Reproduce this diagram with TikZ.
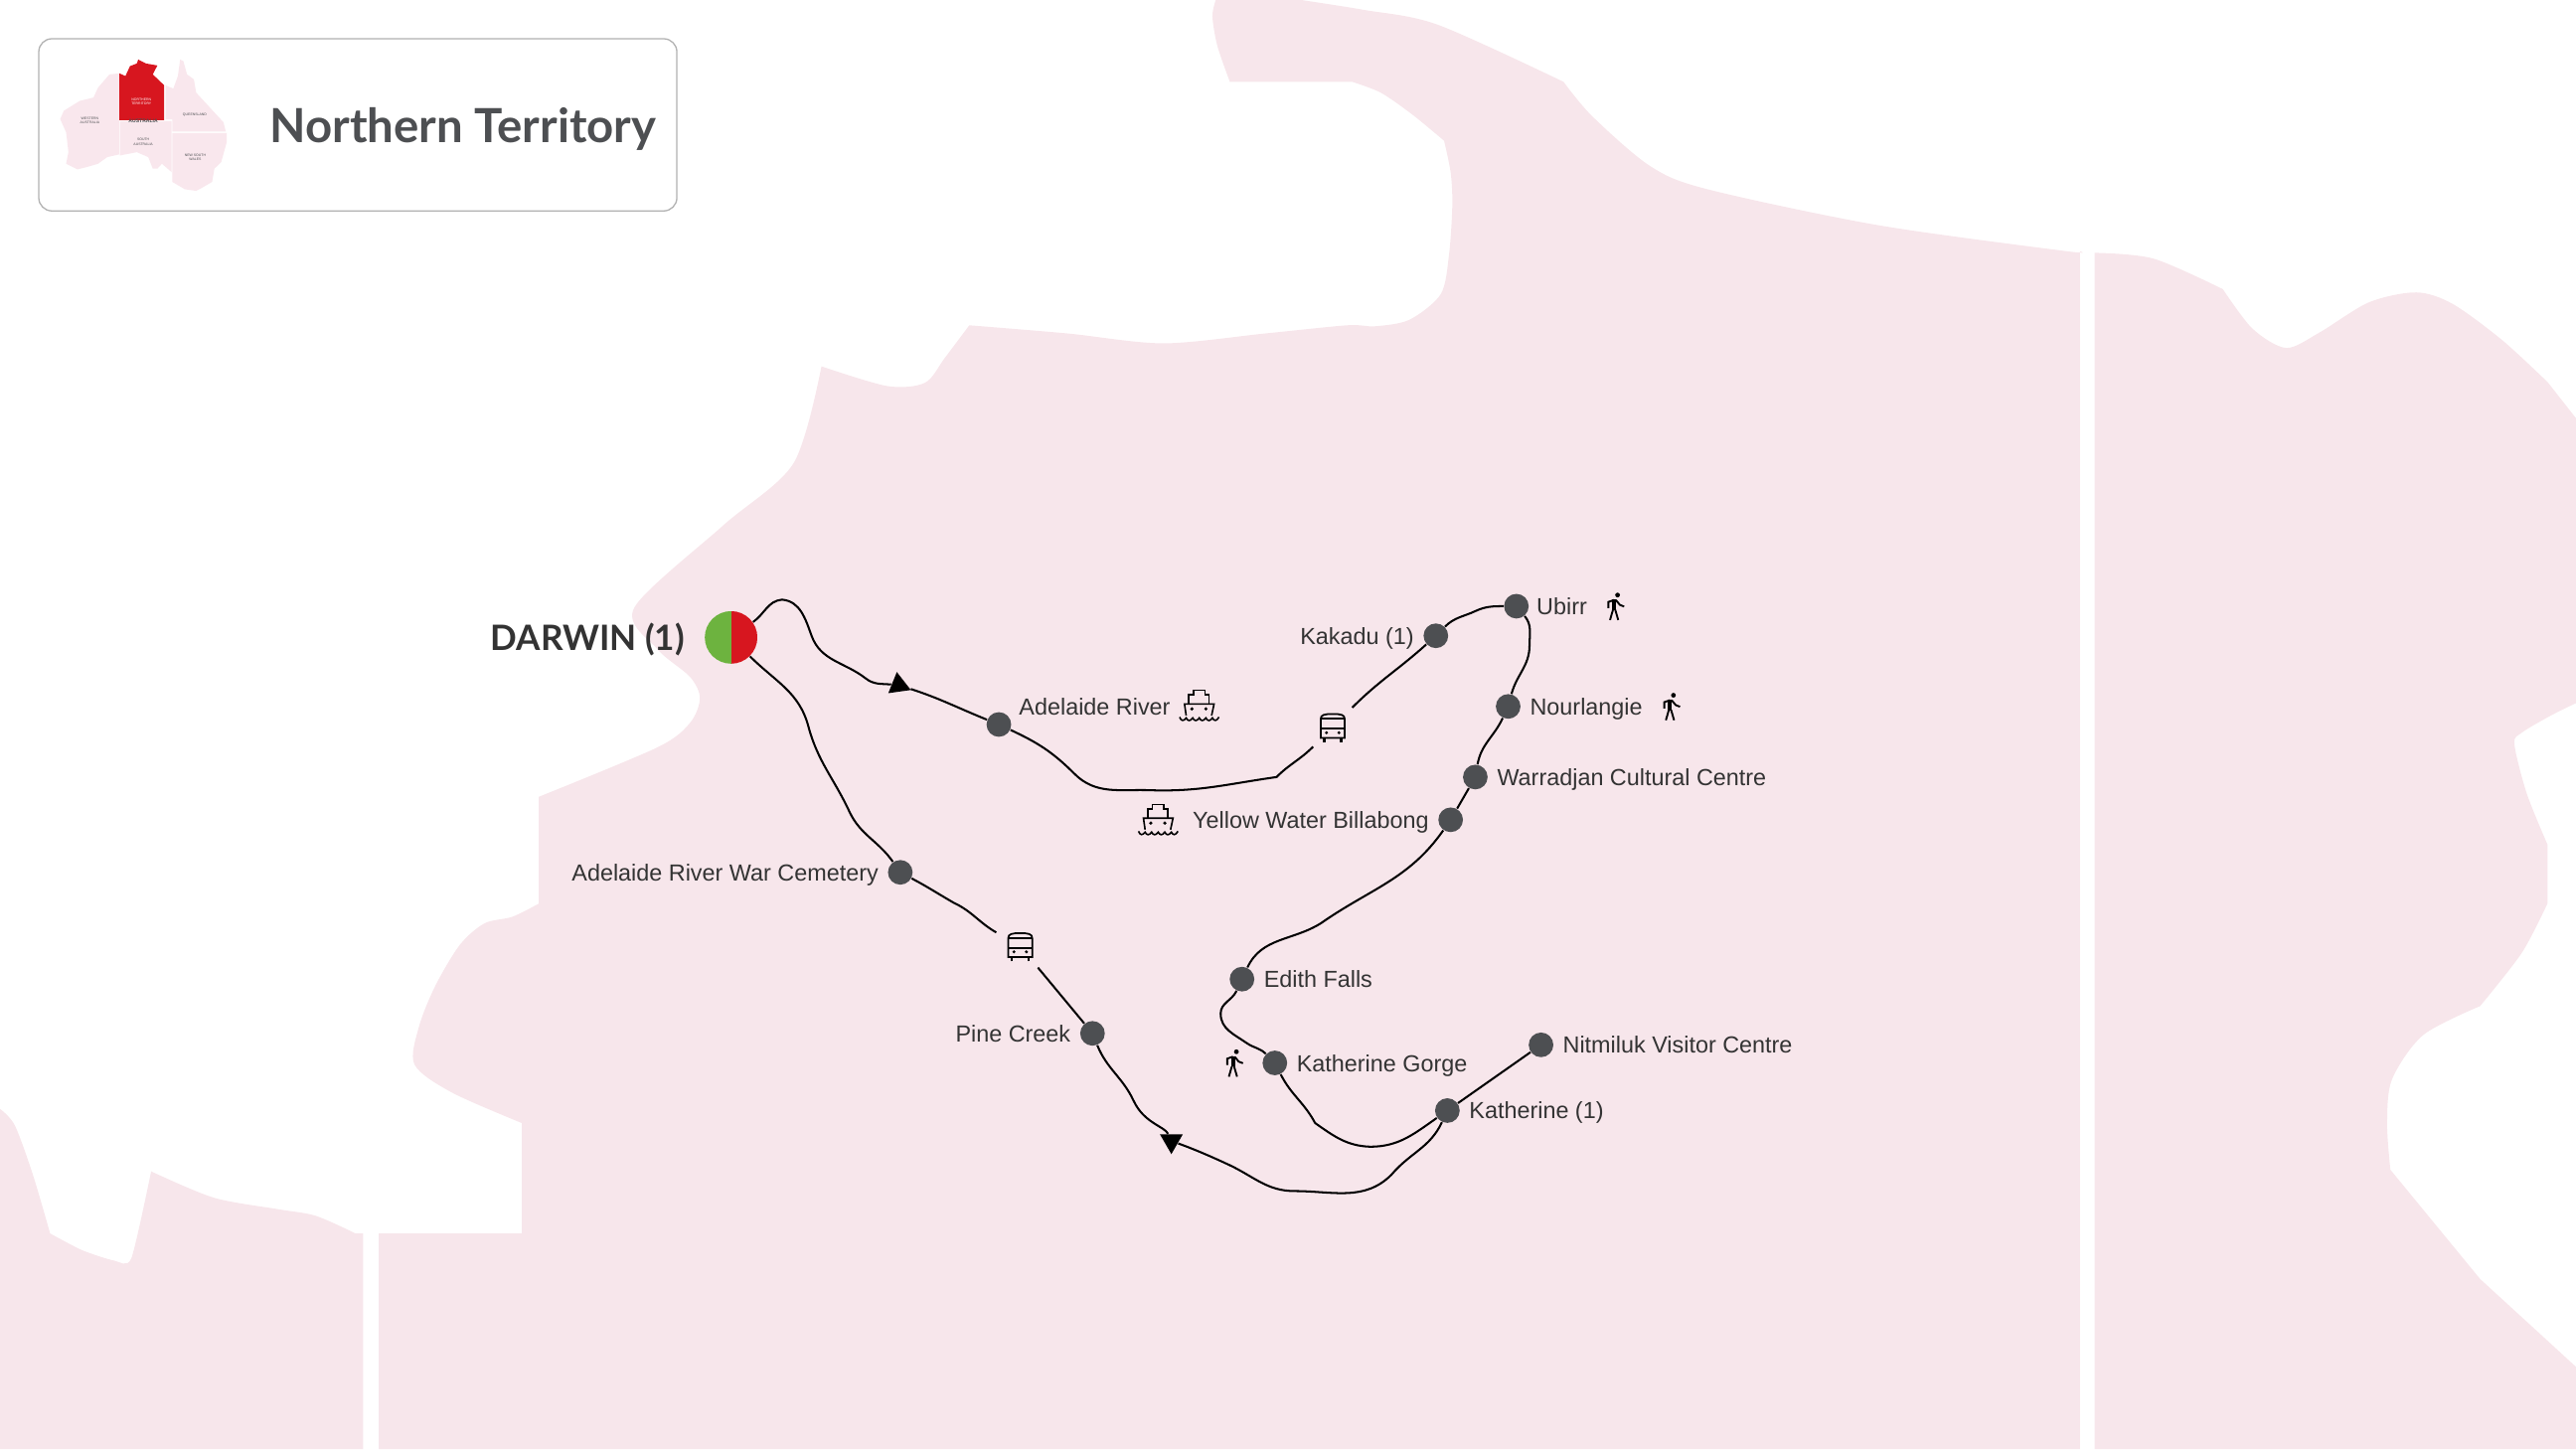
\documentclass[tikz,border=0pt]{standalone}
\usepackage{fontspec}
\setmainfont{Liberation Sans}
\newfontfamily\headfont{Lato}
\usetikzlibrary{shapes.geometric}
\definecolor{landpink}{HTML}{F7E6EB}
\definecolor{minipink}{HTML}{F9E7ED}
\definecolor{ntred}{HTML}{D7161F}
\definecolor{startgreen}{HTML}{6DB33F}
\definecolor{stopgray}{HTML}{4D4F52}
\definecolor{labelgray}{HTML}{333333}
\tikzset{
    stopdot/.style={circle,fill=stopgray,inner sep=0pt,minimum size=0.3cm},
    stoplabel/.style={font=\fontsize{8.05}{10}\selectfont,text=labelgray,inner sep=0pt},
    minilabel/.style={font=\fontsize{1.2}{1.6}\selectfont,text=stopgray,align=center,inner sep=0pt},
    route/.style={line width=0.7pt,black},
    busstop/.style={circle,inner sep=0pt,minimum size=0.66cm},
    tipmark/.style={regular polygon,regular polygon sides=3,fill=black,inner sep=0pt,minimum size=0.32cm},
    bus/.pic={
        \draw[line width=0.6pt] (-7.3,-6.6) -- (-7.3,5) .. controls (-7.3,7.5) and (-5,8) .. (0,8) .. controls (5,8) and (7.3,7.5) .. (7.3,5) -- (7.3,-6.6) -- cycle;
        \draw[line width=0.6pt] (-7.3,5) -- (7.3,5) (-7.3,-1) -- (7.3,-1);
        \draw[line width=0.9pt] (-5.2,-9.2) -- (-5.2,-6.6) (5.2,-9.2) -- (5.2,-6.6);
        \fill (-3.8,-3.4) circle (1) (3.8,-3.4) circle (1);
    },
    ship/.pic={
        \draw[line width=0.55pt] (-8,-6) -- (-9,1) -- (9,1) -- (7.5,-6);
        \draw[line width=0.55pt] (-6.4,1) -- (-6.4,6.5) -- (-3.6,6.5) -- (-3.6,9.3) -- (3.4,9.3) -- (3.4,6.5) -- (5.8,6.5) -- (5.8,1);
        \fill (-4.5,-2) circle (1.1) (4,-2) circle (1.1);
        \draw[line width=0.55pt] (-12,-7) .. controls (-11,-9.6) and (-9.5,-9.6) .. (-8,-7.5)
            .. controls (-7,-9.6) and (-5.5,-9.6) .. (-4,-7.5) .. controls (-3,-9.6) and (-1.5,-9.6) .. (0,-7.5)
            .. controls (1,-9.6) and (2.5,-9.6) .. (4,-7.5) .. controls (5,-9.6) and (6.5,-9.6) .. (8,-7.5)
            .. controls (9,-9.6) and (10.5,-9.6) .. (12,-7);
    },
    walker/.pic={
        \fill (1.6,7.4) circle (1.45);
        \draw[line width=1.4pt] (-0.5,4.6) -- (-0.5,-1.8);
        \draw[line width=0.65pt] (-1.2,-1.6) -- (-3,-7.8) (0.2,-1.6) -- (2,-7.8);
        \draw[line width=0.65pt] (-0.5,4.4) -- (-4,3.2) -- (-4,-0.6) (0.5,4.4) -- (3,1.4) -- (5.6,0.4);
    }
}
\begin{document}
\begin{tikzpicture}[x=0.02cm,y=0.02cm]
    \useasboundingbox (0,0) rectangle (1568,882);
    % land, typed from the top of the page down
    \begin{scope}[shift={(0,882)},y=-0.02cm]
        \fill[landpink] plot[smooth,tension=0.5] coordinates {(740,0)(738,10)(741,28)(748.6,49.8)}
            -- plot[smooth,tension=0.5] coordinates {(823,49.8)(840.6,56.5)(860,70)(879,85.7)}
            -- plot[smooth,tension=0.5] coordinates {(879,85.7)(883,105)(884,125)(882,155)(877,179)(858,194.6)(837,198.6)(820,198)(770,203)(708,209)(650,203)(590,198)}
            -- plot[smooth,tension=0.5] coordinates {(590,198)(575,218)(563,233)(540,235)(500,223)}
            -- plot[smooth,tension=0.5] coordinates {(500,223)(483,282)(440,320)(386,370)(400,395)(420,412)(426,425)(420,440)(400,455)(328,485)}
            -- plot[smooth,tension=0.5] coordinates {(328,550)(312,558)(295,562)(280,575)(265,600)(255,625)(252.3,648)(275,665)(317.6,683.6)}
            -- (317.6,750.8) -- (230.5,750.8) -- (230.5,882) -- (1266,882) -- (1266,153)
            -- plot[smooth,tension=0.5] coordinates {(1266,153)(1257,152.8)(1142.7,137)(1038.5,115)(1004,100.8)(969,70.6)(951.7,49.8)}
            -- plot[smooth,tension=0.5] coordinates {(951.7,49.8)(875,15)(830,6)(792,0)} -- cycle;
        \fill[landpink] (1275,882) -- (1275,153.9)
            -- plot[smooth,tension=0.5] coordinates {(1275,153.9)(1310.7,157.4)(1353,176)}
            -- plot[smooth,tension=0.5] coordinates {(1353,176)(1371,200)(1391.5,211.8)(1411.7,202.5)(1442,184)(1470.8,178)(1492.9,185)(1523,207)(1550.7,232.6)}
            -- (1568,254.6) -- (1568,428)
            -- plot[smooth,tension=0.5] coordinates {(1568,428)(1552.6,435.6)(1535,446)(1530.5,453)(1538,483)(1550.6,514)}
            -- (1550.6,550)
            -- plot[smooth,tension=0.5] coordinates {(1550.6,550)(1535,580)(1509.6,612.4)}
            -- plot[smooth,tension=0.5] coordinates {(1509.6,612.4)(1475,630)(1456,657)(1453,684)(1455,712)}
            -- (1509.6,778.5) -- (1568,832) -- (1568,882) -- cycle;
        \fill[landpink] (0,882) -- (0,675)
            -- plot[smooth,tension=0.5] coordinates {(0,675)(9,685)(20,715)(30.5,750.8)}
            -- plot[smooth,tension=0.4] coordinates {(30.5,750.8)(50,761)(69.4,767.3)(79.9,766)(92,713)}
            -- plot[smooth,tension=0.5] coordinates {(92,713)(130,729)(169,736)(192,740)(216.4,750.8)} -- (221,750.8) -- (221,882) -- cycle;
    \end{scope}
    % inset
    \draw[color=black!30,line width=0.45pt,rounded corners=0.16cm,fill=white] (23.6,753.6) rectangle (412,858.4);
    \begin{scope}[shift={(0,882)},x=0.00556cm,y=-0.00403cm]
        \fill[minipink] (262,222) -- (240,225) -- (215,265) -- (205,295) -- (175,305) -- (140,335) -- (132,360) -- (145,400) -- (150,460) -- (145,495) -- (170,512) -- (190,505) -- (215,495) -- (235,475) -- (261,467) -- cycle;
        \fill[minipink] (363,258) -- (380,268) -- (390,230) -- (395,180) -- (402,185) -- (410,225) -- (425,240) -- (430,280) -- (450,310) -- (470,340) -- (490,370) -- (495,398) -- (378,398) -- (378,361) -- (363,361) -- cycle;
        \fill[minipink] (263,366) -- (376,366) -- (376,520) -- (355,495) -- (345,510) -- (335,510) -- (325,475) -- (300,460) -- (263,470) -- cycle;
        \fill[minipink] (378,402) -- (497,402) -- (497,430) -- (485,490) -- (470,510) -- (465,550) -- (440,570) -- (430,577) -- (405,572) -- (378,550) -- cycle;
        \fill[ntred] (262,222) -- (275,230) -- (285,200) -- (300,192) -- (303,180) -- (320,192) -- (345,198) -- (335,225) -- (360,258) -- (360,363) -- (262,363) -- cycle;
        \node[minilabel] (miniwa) at (197,364) {WESTERN\\AUSTRALIA};
        \node[minilabel,text=white] (mining) at (310,307) {NORTHERN\\TERRITORY};
        \node[minilabel,font=\fontsize{1.75}{2}\selectfont\bfseries] (minimain) at (314,366) {AUSTRALIA};
        \node[minilabel] (miniqld) at (427,348) {QUEENSLAND};
        \node[minilabel] (minisa) at (314,429) {SOUTH\\AUSTRALIA};
        \node[minilabel] (mininsw) at (428,476) {NEW SOUTH\\WALES};
    \end{scope}
    \node[font=\headfont\bfseries\fontsize{16.3}{19}\selectfont,text=stopgray,anchor=mid west,inner sep=0pt] (title) at (164,800) {Northern Territory};
    % stops
    \node[circle,inner sep=0pt,minimum size=0.64cm,path picture={
        \fill[startgreen] (path picture bounding box.south west) rectangle (path picture bounding box.north);
        \fill[ntred] (path picture bounding box.south) rectangle (path picture bounding box.north east);
    }] (darwin) at (445,494) {};
    \node[stopdot] (adelaideriver) at (608,441) {};
    \node[stopdot] (kakadu) at (874,495) {};
    \node[stopdot] (ubirr) at (923,513) {};
    \node[stopdot] (nourlangie) at (918,452) {};
    \node[stopdot] (warradjan) at (898,409) {};
    \node[stopdot] (yellowwater) at (883,383) {};
    \node[stopdot] (edith) at (756,286) {};
    \node[stopdot] (gorge) at (776,235) {};
    \node[stopdot] (nitmiluk) at (938,246) {};
    \node[stopdot] (katherine) at (881,206) {};
    \node[stopdot] (pinecreek) at (665,253) {};
    \node[stopdot] (cemetery) at (548,351) {};
    \node[busstop] (busa) at (811.2,439.4) {};
    \node[busstop] (busb) at (621,306) {};
    \node[tipmark,rotate=8] (tipa) at (547,465) {};
    \node[tipmark,rotate=180] (tipb) at (713,187.5) {};
    % route
    \draw[route] (darwin) to[out=35,in=185] (476,517) to[out=-5,in=110] (494,495) to[out=-70,in=142] (527,469) to[out=-38,in=172] (tipa);
    \draw[route] (tipa) to[out=-20,in=158] (adelaideriver);
    \draw[route] (adelaideriver) to[out=-25,in=135] (654,411) to[out=-45,in=178] (700,401) to[out=-2,in=188] (777,409) to[out=45,in=225] (busa);
    \draw[route] (busa) to[out=45,in=222] (kakadu);
    \draw[route] (kakadu) to[out=45,in=205] (898,510) to[out=25,in=180] (ubirr);
    \draw[route] (ubirr) to[out=-50,in=90] (931,489) to[out=-90,in=75] (nourlangie);
    \draw[route] (nourlangie) to[out=-115,in=80] (warradjan);
    \draw[route] (warradjan) -- (yellowwater);
    \draw[route] (yellowwater) to[out=-125,in=35] (804,320) to[out=-148,in=65] (edith);
    \draw[route] (edith) to[out=-115,in=90] (743,265) to[out=-90,in=145] (759,247) to[out=-35,in=135] (gorge);
    \draw[route] (gorge) to[out=-63,in=118] (800.5,198.4) to[out=-35,in=178] (834,184) to[out=0,in=215] (katherine);
    \draw[route] (katherine) -- (nitmiluk);
    \draw[route] (katherine) to[out=-115,in=50] (847,167) to[out=225,in=0] (788,157) to[out=180,in=-25] (748,173) to[out=155,in=-20] (tipb);
    \draw[route] (tipb) to[out=115,in=-65] (690,212) to[out=115,in=-68] (pinecreek);
    \draw[route] (pinecreek) -- (busb);
    \draw[route] (busb) to[out=150,in=-25] (580.5,332.5) to[out=150,in=-28] (cemetery);
    \draw[route] (darwin) to[out=-45,in=105] (492,440) to[out=-75,in=115] (517,388) to[out=-65,in=125] (cemetery);
    % icons
    \pic at (busa) {bus};
    \pic at (busb) {bus};
    \pic at (730,452.5) {ship};
    \pic at (705,383) {ship};
    \pic at (983,512.4) {walker};
    \pic at (1017,451.4) {walker};
    \pic at (751,234.4) {walker};
    % labels
    \node[font=\headfont\bfseries\fontsize{12.1}{14}\selectfont,text=labelgray,anchor=mid east,inner sep=0pt] (darwinlabel) at (417,490.5) {DARWIN (1)};
    \node[stoplabel,anchor=mid west] (adelaideriverlabel) at (620,451.5) {Adelaide River};
    \node[stoplabel,anchor=mid east] (kakadulabel) at (861,494.5) {Kakadu (1)};
    \node[stoplabel,anchor=mid west] (ubirrlabel) at (935,512.5) {Ubirr};
    \node[stoplabel,anchor=mid west] (nourlangielabel) at (931,451.5) {Nourlangie};
    \node[stoplabel,anchor=mid west] (warradjanlabel) at (911,408.5) {Warradjan Cultural Centre};
    \node[stoplabel,anchor=mid east] (yellowwaterlabel) at (870,382.5) {Yellow Water Billabong};
    \node[stoplabel,anchor=mid west] (edithlabel) at (769,285.5) {Edith Falls};
    \node[stoplabel,anchor=mid west] (gorgelabel) at (789,234.5) {Katherine Gorge};
    \node[stoplabel,anchor=mid west] (nitmiluklabel) at (951,245.5) {Nitmiluk Visitor Centre};
    \node[stoplabel,anchor=mid west] (katherinelabel) at (894,205.5) {Katherine (1)};
    \node[stoplabel,anchor=mid east] (pinecreeklabel) at (652,252.5) {Pine Creek};
    \node[stoplabel,anchor=mid east] (cemeterylabel) at (535,350.5) {Adelaide River War Cemetery};
\end{tikzpicture}
\end{document}
